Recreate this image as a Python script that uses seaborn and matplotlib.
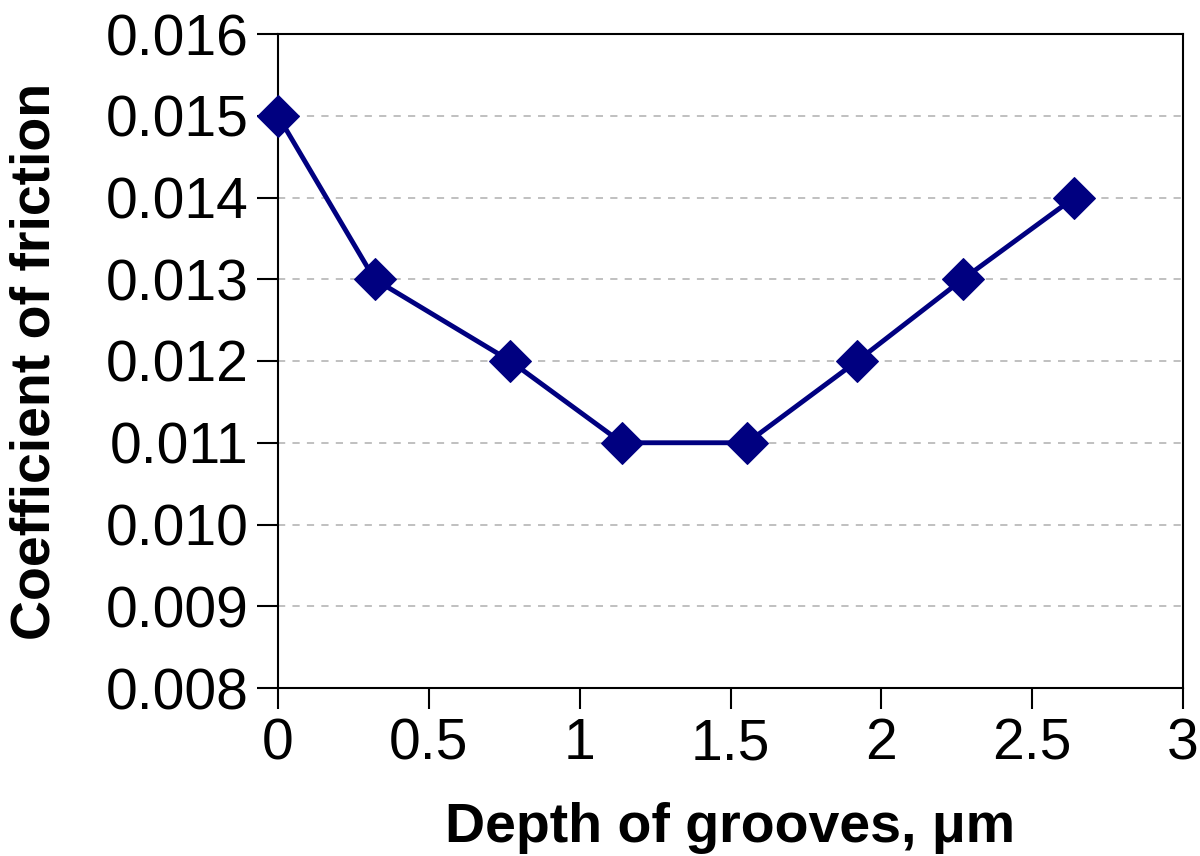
import matplotlib
matplotlib.use('Agg')
import matplotlib.pyplot as plt
import seaborn as sns
import pandas as pd

# datos
depth = [0.0, 0.32, 0.77, 1.14, 1.555, 1.92, 2.27, 2.64]
friction = [0.015, 0.013, 0.012, 0.011, 0.011, 0.012, 0.013, 0.014]
xticks = [0, 0.5, 1, 1.5, 2, 2.5, 3]
xticklabels = ['0', '0.5', '1', '1.5', '2', '2.5', '3']
yticks = [0.008, 0.009, 0.010, 0.011, 0.012, 0.013, 0.014, 0.015, 0.016]

df = pd.DataFrame({'depth': depth, 'friction': friction})

sns.set_theme(style='white')
plt.rcParams['font.family'] = ['Liberation Sans', 'DejaVu Sans']

fig = plt.figure(figsize=(12, 8.56), dpi=100)
ax = fig.add_axes([278/1200, 1-688/856, (1183-278)/1200, (688-34)/856])

sns.lineplot(data=df, x='depth', y='friction', ax=ax, color='#000080',
             linewidth=3.5, marker='D', markersize=21, markeredgecolor='#000080',
             zorder=3, clip_on=False)

ax.set_xlim(0, 3)
ax.set_ylim(0.008, 0.016)
ax.set_xticks(xticks)
ax.set_xticklabels(xticklabels)
ax.set_yticks(yticks)
ax.set_yticklabels(['%.3f' % v for v in yticks])

for y in yticks[1:-1]:
    ax.axhline(y, color='#bbbbbb', linestyle=(0, (4, 4)), linewidth=1.3, zorder=1)

for s in ax.spines.values():
    s.set_color('black')
    s.set_linewidth(1.5)

ax.tick_params(axis='both', which='major', direction='out', length=15, width=1.5,
               color='black', labelsize=41, labelcolor='black', pad=6,
               bottom=True, left=True)
ax.tick_params(axis='x', pad=6)

ax.set_xlabel('Depth of grooves, μm', fontsize=40, fontweight='bold',
              color='black', labelpad=22)
ax.set_ylabel('Coefficient of friction', fontsize=40, fontweight='bold',
              color='black', labelpad=32)

fig.savefig('out.png', dpi=100)
